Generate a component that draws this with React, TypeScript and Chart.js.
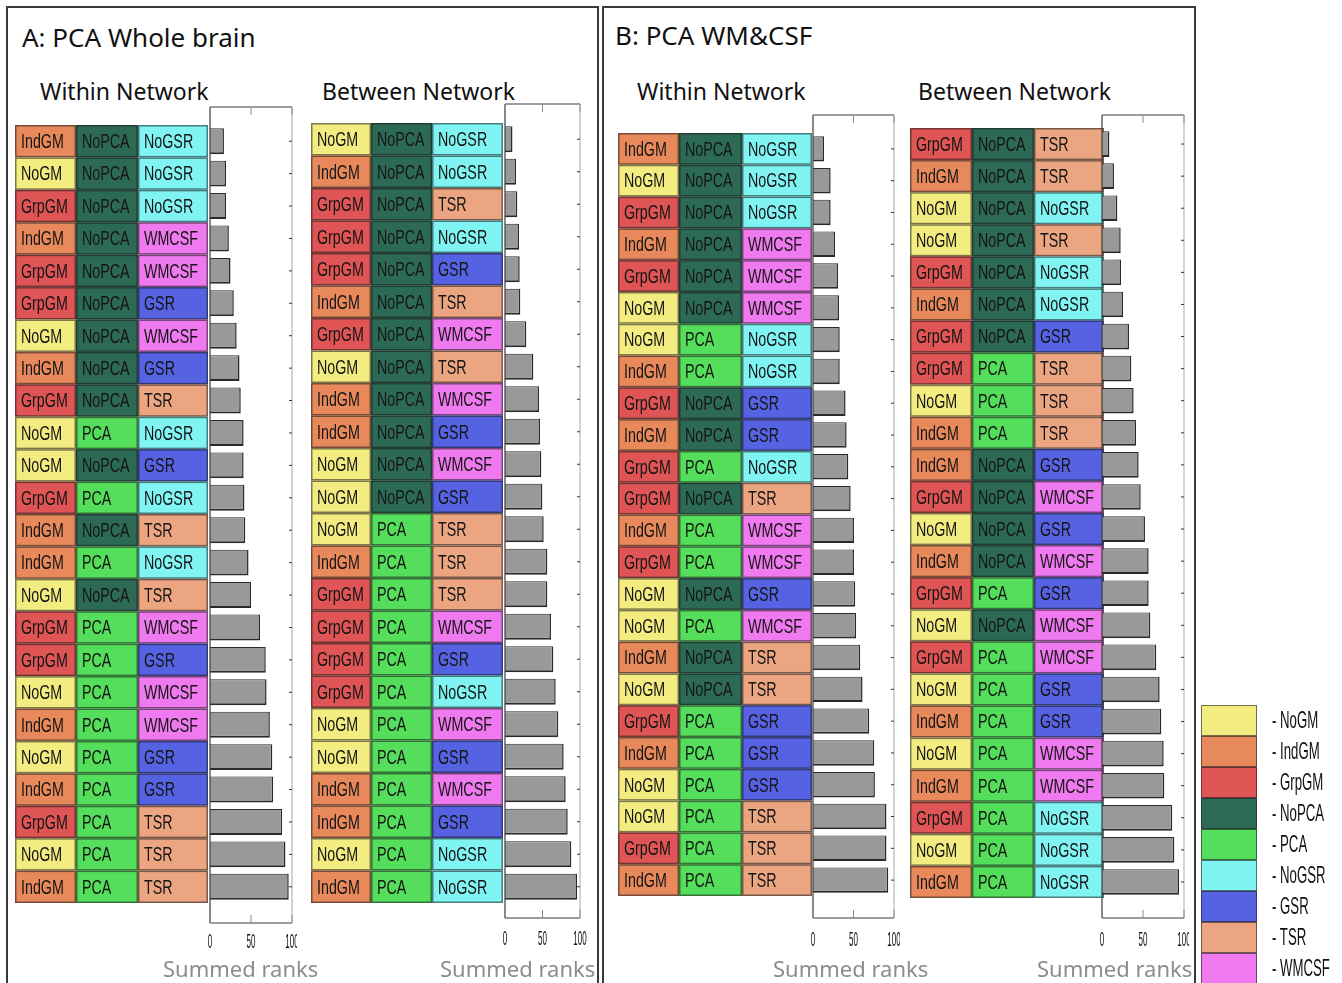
import React, { useEffect, useRef } from "react";
import { Chart, registerables } from "chart.js";
Chart.register(...registerables);

const W = 1342;
const H = 983;

// Legend categories and colours
const legendLabels = ["NoGM", "IndGM", "GrpGM", "NoPCA", "PCA", "NoGSR", "GSR", "TSR", "WMCSF"];
const legendColors = ["#f3ec80", "#e8895c", "#df5454", "#2d6a56", "#55de5b", "#80f4f3", "#5563e2", "#eca581", "#ef7aef"];

const xTickValues = [0, 50, 100];
const xTickLabels = ["0", "50", "100"];

// A: PCA Whole brain — Within Network
const aWithinGM = ["IndGM", "NoGM", "GrpGM", "IndGM", "GrpGM", "GrpGM", "NoGM", "IndGM", "GrpGM", "NoGM", "NoGM", "GrpGM", "IndGM", "IndGM", "NoGM", "GrpGM", "GrpGM", "NoGM", "IndGM", "NoGM", "IndGM", "GrpGM", "NoGM", "IndGM"];
const aWithinPCA = ["NoPCA", "NoPCA", "NoPCA", "NoPCA", "NoPCA", "NoPCA", "NoPCA", "NoPCA", "NoPCA", "PCA", "NoPCA", "PCA", "NoPCA", "PCA", "NoPCA", "PCA", "PCA", "PCA", "PCA", "PCA", "PCA", "PCA", "PCA", "PCA"];
const aWithinNR = ["NoGSR", "NoGSR", "NoGSR", "WMCSF", "WMCSF", "GSR", "WMCSF", "GSR", "TSR", "NoGSR", "GSR", "NoGSR", "TSR", "NoGSR", "TSR", "WMCSF", "GSR", "WMCSF", "WMCSF", "GSR", "GSR", "TSR", "TSR", "TSR"];
const aWithinRanks = [17, 19.5, 19.5, 23, 25, 29, 32.5, 36, 37.5, 41, 41, 42, 43, 47, 50, 61, 68, 69, 73, 76, 77, 88, 92, 96];

// A: PCA Whole brain — Between Network
const aBetweenGM = ["NoGM", "IndGM", "GrpGM", "GrpGM", "GrpGM", "IndGM", "GrpGM", "NoGM", "IndGM", "IndGM", "NoGM", "NoGM", "NoGM", "IndGM", "GrpGM", "GrpGM", "GrpGM", "GrpGM", "NoGM", "NoGM", "IndGM", "IndGM", "NoGM", "IndGM"];
const aBetweenPCA = ["NoPCA", "NoPCA", "NoPCA", "NoPCA", "NoPCA", "NoPCA", "NoPCA", "NoPCA", "NoPCA", "NoPCA", "NoPCA", "NoPCA", "PCA", "PCA", "PCA", "PCA", "PCA", "PCA", "PCA", "PCA", "PCA", "PCA", "PCA", "PCA"];
const aBetweenNR = ["NoGSR", "NoGSR", "TSR", "NoGSR", "GSR", "TSR", "WMCSF", "TSR", "WMCSF", "GSR", "WMCSF", "GSR", "TSR", "TSR", "TSR", "WMCSF", "GSR", "NoGSR", "WMCSF", "GSR", "WMCSF", "GSR", "NoGSR", "NoGSR"];
const aBetweenRanks = [10, 14.7, 16.4, 18.7, 19.6, 20.4, 28.4, 37.8, 45.3, 46.7, 48.4, 49.8, 51.6, 56.4, 56.4, 61.3, 64.4, 67.6, 71, 78.2, 80.9, 83.6, 88.4, 96];

// B: PCA WM&CSF — Within Network
const bWithinGM = ["IndGM", "NoGM", "GrpGM", "IndGM", "GrpGM", "NoGM", "NoGM", "IndGM", "GrpGM", "IndGM", "GrpGM", "GrpGM", "IndGM", "GrpGM", "NoGM", "NoGM", "IndGM", "NoGM", "GrpGM", "IndGM", "NoGM", "NoGM", "GrpGM", "IndGM"];
const bWithinPCA = ["NoPCA", "NoPCA", "NoPCA", "NoPCA", "NoPCA", "NoPCA", "PCA", "PCA", "NoPCA", "NoPCA", "PCA", "NoPCA", "PCA", "PCA", "NoPCA", "PCA", "NoPCA", "NoPCA", "PCA", "PCA", "PCA", "PCA", "PCA", "PCA"];
const bWithinNR = ["NoGSR", "NoGSR", "NoGSR", "WMCSF", "WMCSF", "WMCSF", "NoGSR", "NoGSR", "GSR", "GSR", "NoGSR", "TSR", "WMCSF", "WMCSF", "GSR", "WMCSF", "TSR", "TSR", "GSR", "GSR", "GSR", "TSR", "TSR", "TSR"];
const bWithinRanks = [13.6, 21.8, 21.8, 27.2, 30.9, 32.1, 33, 33, 40.2, 41.5, 43.6, 46.5, 50.6, 50.6, 52.1, 53.3, 58.3, 61.2, 69.4, 75.6, 76.4, 90.7, 90.7, 92.9];

// B: PCA WM&CSF — Between Network
const bBetweenGM = ["GrpGM", "IndGM", "NoGM", "NoGM", "GrpGM", "IndGM", "GrpGM", "GrpGM", "NoGM", "IndGM", "IndGM", "GrpGM", "NoGM", "IndGM", "GrpGM", "NoGM", "GrpGM", "NoGM", "IndGM", "NoGM", "IndGM", "GrpGM", "NoGM", "IndGM"];
const bBetweenPCA = ["NoPCA", "NoPCA", "NoPCA", "NoPCA", "NoPCA", "NoPCA", "NoPCA", "PCA", "PCA", "PCA", "NoPCA", "NoPCA", "NoPCA", "NoPCA", "PCA", "NoPCA", "PCA", "PCA", "PCA", "PCA", "PCA", "PCA", "PCA", "PCA"];
const bBetweenNR = ["TSR", "TSR", "NoGSR", "TSR", "NoGSR", "NoGSR", "GSR", "TSR", "TSR", "TSR", "GSR", "WMCSF", "GSR", "WMCSF", "GSR", "WMCSF", "WMCSF", "GSR", "GSR", "WMCSF", "WMCSF", "NoGSR", "NoGSR", "NoGSR"];
const bBetweenRanks = [9, 14.6, 18.7, 22.8, 23.2, 25.6, 32.9, 35.7, 38.6, 41.5, 44.7, 47.2, 52.4, 56.9, 56.9, 58.9, 66.2, 70.3, 72.3, 75.2, 76, 85.7, 88.2, 93.9];

const COLOR: Record<string, string> = {};
legendLabels.forEach((l, i) => (COLOR[l] = legendColors[i]));

type Panel = {
  key: string;
  gm: string[];
  pca: string[];
  nr: string[];
  ranks: number[];
  cols: number[];
  axisL: number;
  axisR: number;
  rowT: number;
  rowB: number;
  frameT: number;
  frameB: number;
  tickY: number;
  clipR: number;
};

const PANELS: Panel[] = [
  { key: "aw", gm: aWithinGM, pca: aWithinPCA, nr: aWithinNR, ranks: aWithinRanks, cols: [15, 76, 138, 208], axisL: 210, axisR: 292, rowT: 125, rowB: 903, frameT: 107, frameB: 923, tickY: 942, clipR: 297 },
  { key: "ab", gm: aBetweenGM, pca: aBetweenPCA, nr: aBetweenNR, ranks: aBetweenRanks, cols: [311, 371, 432, 503], axisL: 505, axisR: 580, rowT: 123, rowB: 903, frameT: 104, frameB: 918, tickY: 939, clipR: 598 },
  { key: "bw", gm: bWithinGM, pca: bWithinPCA, nr: bWithinNR, ranks: bWithinRanks, cols: [618, 679, 742, 812], axisL: 813, axisR: 894, rowT: 133, rowB: 896, frameT: 115, frameB: 918, tickY: 940, clipR: 900 },
  { key: "bb", gm: bBetweenGM, pca: bBetweenPCA, nr: bBetweenNR, ranks: bBetweenRanks, cols: [910, 972, 1034, 1104], axisL: 1102, axisR: 1184, rowT: 128, rowB: 898, frameT: 115, frameB: 918, tickY: 940, clipR: 1189 },
];

function drawNarrowText(ctx: CanvasRenderingContext2D, text: string, x: number, y: number, size: number, sx: number, align: CanvasTextAlign) {
  ctx.save();
  ctx.translate(x, y);
  ctx.scale(sx, 1);
  ctx.font = `${size}px "Liberation Sans", Arial, sans-serif`;
  ctx.textAlign = align;
  ctx.textBaseline = "middle";
  ctx.fillText(text, 0, 0);
  ctx.restore();
}

function makePlugin(p: Panel) {
  return {
    id: "table_" + p.key,
    beforeDatasetsDraw(chart: any) {
      const ctx: CanvasRenderingContext2D = chart.ctx;
      const y = chart.scales.y;
      const band = Math.abs(y.getPixelForValue(1) - y.getPixelForValue(0));
      for (let i = 0; i < p.ranks.length; i++) {
        const yc = y.getPixelForValue(i);
        const t = yc - band / 2;
        const cells = [p.gm[i], p.pca[i], p.nr[i]];
        cells.forEach((lab, j) => {
          const x0 = p.cols[j];
          const x1 = p.cols[j + 1];
          ctx.fillStyle = COLOR[lab];
          ctx.fillRect(x0, t, x1 - x0, band);
          ctx.strokeStyle = "rgba(25,25,25,0.55)";
          ctx.lineWidth = 1.5;
          ctx.strokeRect(x0 + 0.75, t + 0.75, x1 - x0 - 1.5, band - 1.5);
          ctx.fillStyle = "#151515";
          drawNarrowText(ctx, lab, x0 + 6, yc + 1, 21, 0.68, "left");
        });
      }
    },
    afterDatasetsDraw(chart: any) {
      const ctx: CanvasRenderingContext2D = chart.ctx;
      const x = chart.scales.x;
      const y = chart.scales.y;
      const L = x.getPixelForValue(0);
      const R = x.getPixelForValue(100);
      ctx.save();
      // frame
      ctx.lineWidth = 1.2;
      ctx.strokeStyle = "#3c3c3c";
      ctx.beginPath();
      ctx.moveTo(L, p.frameT);
      ctx.lineTo(R, p.frameT);
      ctx.moveTo(L, p.frameB);
      ctx.lineTo(R, p.frameB);
      ctx.moveTo(L, p.frameT);
      ctx.lineTo(L, p.frameB);
      ctx.stroke();
      ctx.strokeStyle = "#a8a8a8";
      ctx.lineWidth = 1;
      ctx.beginPath();
      ctx.moveTo(R, p.frameT);
      ctx.lineTo(R, p.frameB);
      ctx.stroke();
      // inward x ticks
      ctx.strokeStyle = "#8a8a8a";
      ctx.beginPath();
      xTickValues.forEach((v) => {
        const px = x.getPixelForValue(v);
        ctx.moveTo(px, p.frameT);
        ctx.lineTo(px, p.frameT + 8);
        ctx.moveTo(px, p.frameB);
        ctx.lineTo(px, p.frameB - 8);
      });
      ctx.stroke();
      // inward y ticks on the right
      ctx.strokeStyle = "#333";
      ctx.beginPath();
      for (let i = 0; i < p.ranks.length; i++) {
        const py = y.getPixelForValue(i);
        ctx.moveTo(R - 3, py);
        ctx.lineTo(R, py);
      }
      ctx.stroke();
      // tick labels
      ctx.beginPath();
      ctx.rect(0, 0, p.clipR, H);
      ctx.clip();
      ctx.fillStyle = "#111";
      xTickValues.forEach((v, k) => {
        drawNarrowText(ctx, xTickLabels[k], x.getPixelForValue(v), p.tickY, 21, 0.38, "center");
      });
      ctx.restore();
    },
  };
}

function PanelChart({ p }: { p: Panel }) {
  const ref = useRef<HTMLCanvasElement>(null);
  useEffect(() => {
    const labels = p.ranks.map((_, i) => `${p.gm[i]} ${p.pca[i]} ${p.nr[i]}`);
    const chart = new Chart(ref.current as HTMLCanvasElement, {
      type: "bar",
      data: {
        labels,
        datasets: [
          {
            data: p.ranks,
            backgroundColor: "#999999",
            borderColor: "#2a2a2a",
            borderWidth: { top: 1, right: 1.5, bottom: 2, left: 0 },
            borderSkipped: false,
            barPercentage: 0.8,
            categoryPercentage: 1,
          } as any,
        ],
      },
      options: {
        indexAxis: "y",
        responsive: false,
        animation: false,
        events: [],
        layout: { padding: { left: p.axisL, right: W - p.axisR, top: p.rowT, bottom: H - p.rowB } },
        scales: {
          x: { display: false, min: 0, max: 100 },
          y: { display: false },
        },
        plugins: { legend: { display: false }, tooltip: { enabled: false } },
      },
      plugins: [makePlugin(p)],
    } as any);
    return () => chart.destroy();
  }, [p]);
  return <canvas ref={ref} width={W} height={H} style={{ position: "absolute", left: 0, top: 0, width: W, height: H }} />;
}

const textStyle = (left: number, top: number, size: number, color = "#111"): React.CSSProperties => ({
  position: "absolute",
  left,
  top,
  fontSize: size,
  lineHeight: 1,
  color,
  whiteSpace: "nowrap",
  fontFamily: '"Noto Sans", sans-serif',
});

export default function App() {
  return (
    <div style={{ position: "fixed", left: 0, top: 0, width: W, height: H, background: "#fff", overflow: "hidden" }}>
      {/* panel frames */}
      <div style={{ position: "absolute", left: 6, top: 6, width: 593, height: 1000, border: "2px solid #3a3a3a", boxSizing: "border-box" }} />
      <div style={{ position: "absolute", left: 602, top: 6, width: 594, height: 1000, border: "2px solid #3a3a3a", boxSizing: "border-box" }} />

      <div style={textStyle(22, 24, 26)}>A: PCA Whole brain</div>
      <div style={textStyle(615, 22, 26)}>B: PCA WM&amp;CSF</div>
      <div style={textStyle(40, 80, 23)}>Within Network</div>
      <div style={textStyle(322, 80, 23)}>Between Network</div>
      <div style={textStyle(637, 80, 23)}>Within Network</div>
      <div style={textStyle(918, 80, 23)}>Between Network</div>

      {PANELS.map((p) => (
        <PanelChart key={p.key} p={p} />
      ))}

      <div style={textStyle(163, 957, 22, "#8c8c8c")}>Summed ranks</div>
      <div style={textStyle(440, 957, 22, "#8c8c8c")}>Summed ranks</div>
      <div style={textStyle(773, 957, 22, "#8c8c8c")}>Summed ranks</div>
      <div style={textStyle(1037, 957, 22, "#8c8c8c")}>Summed ranks</div>

      {/* legend */}
      {legendLabels.map((l, i) => (
        <React.Fragment key={l}>
          <div
            style={{
              position: "absolute",
              left: 1201,
              top: 705 + i * 31,
              width: 56,
              height: 31,
              background: legendColors[i],
              border: "1px solid rgba(30,30,30,0.6)",
              boxSizing: "border-box",
            }}
          />
          <div
            style={{
              position: "absolute",
              left: 1272,
              top: 705 + i * 31 + 3,
              fontSize: 24,
              lineHeight: 1,
              fontFamily: '"Liberation Sans", Arial, sans-serif',
              color: "#111",
              whiteSpace: "nowrap",
              transform: "scaleX(0.55)",
              transformOrigin: "left center",
            }}
          >
            - {l}
          </div>
        </React.Fragment>
      ))}
    </div>
  );
}
